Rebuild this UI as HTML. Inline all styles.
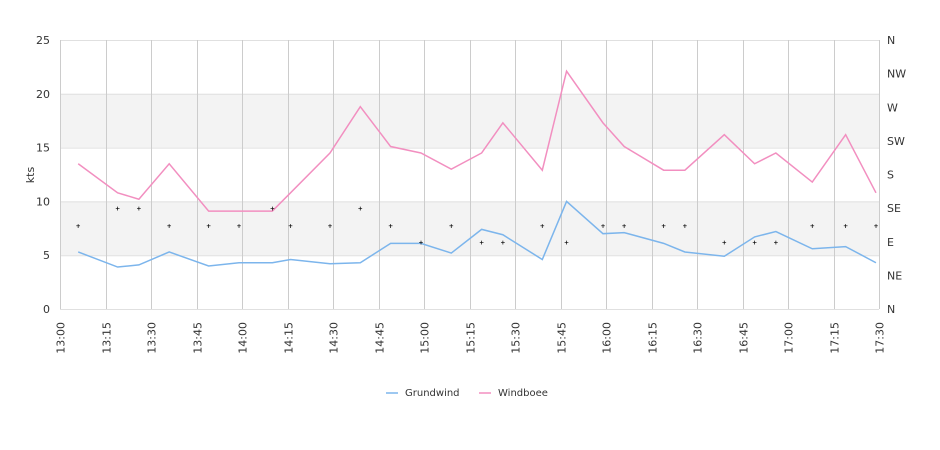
<!DOCTYPE html>
<html><head><meta charset="utf-8"><style>
body{margin:0;background:#fff;}
svg{display:block;font-family:"DejaVu Sans","Liberation Sans",sans-serif;}
</style></head><body>
<svg id="chart" width="940" height="450">
<g id="bands"></g><g id="grid"></g><g id="axes"></g><g id="series"></g><g id="dirs"></g>
<g id="legend">
<line x1="386" y1="393" x2="398" y2="393" stroke="#7cb5ec" stroke-width="1.5"/>
<text x="405" y="396" font-size="10" fill="#333">Grundwind</text>
<line x1="479" y1="393" x2="491" y2="393" stroke="#f28fc0" stroke-width="1.5"/>
<text x="498" y="396" font-size="10" fill="#333">Windboee</text>
</g>
</svg>
<script>
const times=[6,19,26,36,49,59,70,76,89,99,109,119,129,139,146,159,167,179,186,199,206,219,229,236,248,259,269];
const grund=[5.3,3.9,4.1,5.3,4.0,4.3,4.3,4.6,4.2,4.3,6.1,6.1,5.2,7.4,6.9,4.6,10.0,7.0,7.1,6.1,5.3,4.9,6.7,7.2,5.6,5.8,4.3];
const boee=[13.5,10.8,10.2,13.5,9.1,9.1,9.1,10.8,14.5,18.8,15.1,14.5,13.0,14.5,17.3,12.9,22.1,17.3,15.1,12.9,12.9,16.2,13.5,14.5,11.8,16.2,10.8];
const dirs=[112,135,135,112,112,112,135,112,112,135,112,90,112,90,90,112,90,112,112,112,112,90,90,90,112,112,112];
const yTicks=[0,5,10,15,20,25];
const xTicks=["13:00","13:15","13:30","13:45","14:00","14:15","14:30","14:45","15:00","15:15","15:30","15:45","16:00","16:15","16:30","16:45","17:00","17:15","17:30"];
const dirLabels=["N","NE","E","SE","S","SW","W","NW","N"];
const X0=60,X1=879,Y0=309,Y1=40;
const xs=t=>X0+t*(X1-X0)/270, ys=v=>Y0-v*(Y0-Y1)/25, yd=d=>Y0-d*(Y0-Y1)/360;
const NS="http://www.w3.org/2000/svg";
function mk(tag,attrs,parent,txt){const e=document.createElementNS(NS,tag);for(const k in attrs)e.setAttribute(k,attrs[k]);if(txt!==undefined)e.textContent=txt;document.getElementById(parent).appendChild(e);return e;}
[[5,10],[15,20]].forEach(b=>{const r=mk('rect',{x:X0,y:ys(b[1]),width:X1-X0,height:ys(b[0])-ys(b[1]),fill:'#f3f3f3'},'bands');

});
yTicks.forEach(v=>{const l=mk('line',{x1:X0,x2:X1,y1:ys(v)+.5,y2:ys(v)+.5,stroke:'#e0e0e0'},'grid');


const t=mk('text',{x:50,y:ys(v)+4,'font-size':11,fill:'#333','text-anchor':'end'},'axes',String(v));

});
xTicks.forEach((s,i)=>{const x=Math.round(xs(i*15))+.5;const l=mk('line',{x1:x,x2:x,y1:Y1,y2:Y0,stroke:'#cccccc'},'grid');


const t=mk('text',{transform:`translate(${x+4},322) rotate(-90)`,'font-size':11,fill:'#333','text-anchor':'end'},'axes',s);

});
dirLabels.forEach((s,i)=>{const t=mk('text',{x:887,y:yd(i*45)+4,'font-size':11,fill:'#333'},'axes',s);

});
const yt=mk('text',{transform:'translate(34,175) rotate(-90)','font-size':11,fill:'#333','text-anchor':'middle'},'axes','kts');


function line(vals,color,name){const p=mk('polyline',{points:vals.map((v,i)=>xs(times[i])+','+ys(v)).join(' '),fill:'none',stroke:color,'stroke-width':1.5},'series');

}
line(grund,'#7cb5ec','grundwind-line');
line(boee,'#f28fc0','windboee-line');
dirs.forEach((d,i)=>{const t=mk('text',{x:xs(times[i]),y:yd(d)+2.5,'font-size':6,'font-weight':'bold','text-anchor':'middle',fill:'#000'},'dirs','+');

});
</script>
</body></html>
